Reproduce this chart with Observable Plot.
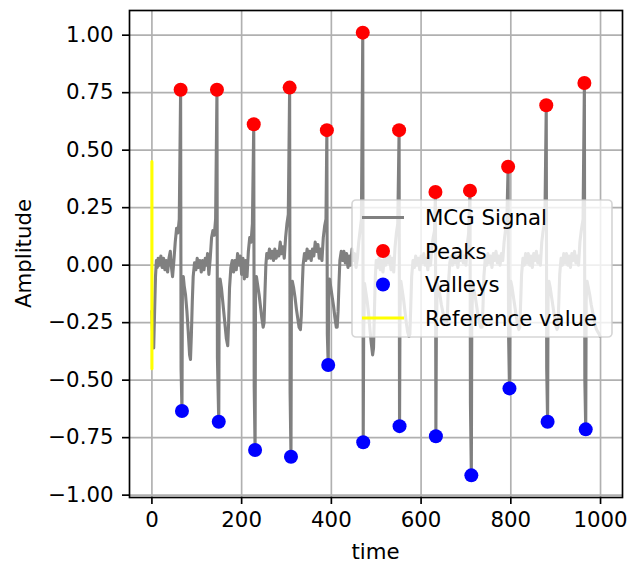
<!DOCTYPE html>
<html><head><meta charset="utf-8">
<script src="https://cdn.jsdelivr.net/npm/d3@7"></script>
<script src="https://cdn.jsdelivr.net/npm/@observablehq/plot@0.6"></script>
<style>body{margin:0;background:#fff;} svg{display:block}</style>
</head><body><div id="chart"></div>
<script>
// MCG signal, [time, amplitude]
const mcgSignal = [
 [0,-0.20],[2,-0.33],[4,-0.36],[6,-0.20],[8,-0.05],[10,0.02],[12,-0.01],[14,0.03],[17,0.0],[20,0.04],[23,-0.01],[26,0.03],[29,-0.02],[32,0.02],[35,-0.03],[38,0.03],[41,0.06],[43,0.0],[46,-0.05],[49,0.02],[52,0.10],[55,0.16],[58,0.14],[61,0.20],
 [64,0.763],[65,-0.45],[67,-0.634],[68,-0.10],[70,-0.05],[72,-0.09],[75,-0.13],[78,-0.20],[81,-0.29],[84,-0.39],[86,-0.41],[88,-0.30],[90,-0.16],[92,-0.05],[95,0.01],
 [98,-0.02],[101,0.03],[104,-0.01],[107,0.02],[110,-0.03],[113,0.02],[116,-0.02],[119,0.03],[122,0.0],[124,0.05],[127,-0.04],[130,0.03],[133,0.12],[136,0.15],[139,0.13],[142,0.20],
 [145,0.763],[146,-0.40],[149,-0.681],[150,-0.10],[152,-0.06],[155,-0.10],[158,-0.16],[162,-0.24],[166,-0.32],[169,-0.35],[171,-0.25],[173,-0.10],[176,-0.01],
 [179,0.02],[182,-0.03],[185,0.02],[188,-0.02],[191,0.05],[194,0.0],[197,0.04],[200,-0.04],[203,0.03],[206,-0.06],[209,0.02],[212,-0.05],[215,0.06],[218,0.12],[221,0.10],[224,0.18],
 [227,0.613],[228,-0.53],[230,-0.804],[231,-0.10],[233,-0.05],[236,-0.09],[239,-0.13],[242,-0.18],[245,-0.23],[248,-0.27],[250,-0.25],[252,-0.12],[254,0.0],[256,0.05],
 [259,0.03],[262,0.07],[265,0.03],[268,0.06],[271,0.02],[274,0.07],[277,0.03],[280,0.06],[283,0.04],[286,0.10],[289,0.05],[292,0.08],[295,0.03],[298,0.12],[301,0.18],[304,0.22],
 [307,0.772],[308,-0.55],[310,-0.833],[311,-0.12],[313,-0.07],[316,-0.10],[319,-0.14],[322,-0.19],[325,-0.23],[328,-0.27],[331,-0.28],[333,-0.22],[335,-0.10],[337,0.0],[340,0.05],
 [343,0.02],[346,0.07],[349,0.03],[352,0.06],[355,0.02],[358,0.07],[361,0.04],[364,0.10],[367,0.06],[370,0.09],[373,0.03],[376,0.07],[379,0.02],[382,0.12],[385,0.17],[388,0.20],
 [390,0.587],[391,-0.30],[393,-0.434],[394,-0.10],[396,-0.06],[399,-0.10],[402,-0.14],[405,-0.18],[408,-0.23],[411,-0.27],[413,-0.27],[415,-0.20],[417,-0.08],[419,0.02],[422,0.06],
 [425,0.02],[428,0.06],[431,0.01],[434,0.05],[437,-0.01],[440,0.04],[443,0.0],[446,0.07],[449,0.02],[452,0.05],[455,-0.01],[458,0.03],[461,0.10],[464,0.15],[467,0.20],
 [470,1.011],[471,-0.770],[472,-0.30],[474,-0.08],[477,-0.12],[480,-0.16],[483,-0.21],[486,-0.28],[489,-0.34],[492,-0.39],[494,-0.36],[496,-0.20],[498,-0.05],[500,0.02],
 [503,-0.01],[506,0.03],[509,-0.02],[512,0.02],[515,-0.03],[518,0.03],[521,0.0],[524,0.05],[527,0.01],[530,0.04],[533,-0.02],[536,0.03],[539,-0.03],[542,0.08],[545,0.14],[548,0.18],
 [551,0.587],[552,-0.700],[553,-0.20],[555,-0.07],[558,-0.11],[561,-0.15],[564,-0.20],[567,-0.25],[570,-0.29],[573,-0.31],[575,-0.30],[577,-0.18],[579,-0.05],[582,0.02],
 [585,-0.01],[588,0.04],[591,0.0],[594,0.03],[597,-0.02],[600,0.04],[603,0.01],[606,0.05],[609,0.0],[612,0.03],[615,-0.02],[618,0.04],[621,0.0],[624,0.08],[627,0.12],[630,0.15],
 [632,0.318],[633,-0.744],[634,-0.30],[636,-0.08],[639,-0.10],[642,-0.13],[645,-0.17],[648,-0.20],[651,-0.23],[654,-0.25],[657,-0.26],[659,-0.20],[661,-0.08],[664,0.01],
 [667,0.04],[670,0.0],[673,0.05],[676,0.01],[679,0.04],[682,-0.01],[685,0.05],[688,0.02],[691,0.06],[694,0.01],[697,0.04],[700,0.0],[703,0.09],[706,0.14],
 [709,0.324],[710,-0.60],[712,-0.914],[713,-0.25],[715,-0.08],[718,-0.11],[721,-0.14],[724,-0.18],[727,-0.22],[730,-0.25],[733,-0.27],[736,-0.27],[738,-0.18],[740,-0.05],[743,0.03],
 [746,0.0],[749,0.05],[752,0.01],[755,0.04],[758,-0.01],[761,0.05],[764,0.02],[767,0.06],[770,0.01],[773,0.04],[776,0.0],[779,0.05],[782,0.02],[785,0.10],[788,0.15],[791,0.18],
 [794,0.428],[795,-0.30],[797,-0.536],[798,-0.15],[800,-0.07],[803,-0.10],[806,-0.14],[809,-0.18],[812,-0.22],[815,-0.26],[818,-0.28],[820,-0.27],[822,-0.16],[824,-0.04],[827,0.03],
 [830,0.0],[833,0.05],[836,0.01],[839,0.05],[842,0.0],[845,0.04],[848,-0.01],[851,0.05],[854,0.02],[857,0.06],[860,0.01],[863,0.04],[866,0.0],[869,0.10],[872,0.15],[876,0.20],
 [879,0.695],[880,-0.45],[882,-0.681],[883,-0.15],[885,-0.07],[888,-0.10],[891,-0.14],[894,-0.18],[897,-0.22],[900,-0.26],[903,-0.28],[905,-0.27],[907,-0.16],[909,-0.04],[912,0.03],
 [915,0.0],[918,0.05],[921,0.01],[924,0.05],[927,0.0],[930,0.04],[933,-0.01],[936,0.05],[939,0.02],[942,0.06],[945,0.01],[948,0.04],[951,0.0],[954,0.10],[957,0.15],[961,0.20],
 [964,0.792],[965,-0.50],[967,-0.714],[968,-0.15],[970,-0.07],[973,-0.10],[976,-0.13],[979,-0.17],[982,-0.20],[985,-0.23],[988,-0.26],[991,-0.28],[994,-0.29],[997,-0.30],[999,-0.31]
];
const peakTime   = [64,145,227,307,390,470,551,632,709,794,879,964];
const peakAmp    = [0.763,0.763,0.613,0.772,0.587,1.011,0.587,0.318,0.324,0.428,0.695,0.792];
const valleyTime = [67,149,230,310,393,471,552,633,712,797,882,967];
const valleyAmp  = [-0.634,-0.681,-0.804,-0.833,-0.434,-0.770,-0.700,-0.744,-0.914,-0.536,-0.681,-0.714];
const refTime = [0,0];
const refAmp  = [-0.45,0.45];
const xTicks = [0,200,400,600,800,1000];
const yTicks = [-1,-0.75,-0.5,-0.25,0,0.25,0.5,0.75,1];
const legendLabels = ["MCG Signal","Peaks","Valleys","Reference value"];
const xLabel = "time", yLabel = "Amplitude";

const FONT = "DejaVu Sans";
const FS = 21.3;
const signal = mcgSignal.map(([t,v]) => ({t, v}));
const peaks = peakTime.map((t,i) => ({t, v: peakAmp[i]}));
const valleys = valleyTime.map((t,i) => ({t, v: valleyAmp[i]}));
const ref = refTime.map((t,i) => ({t, v: refAmp[i]}));

const W = 636, H = 564, mL = 129, mR = 14, mT = 10, mB = 67;
const chart = Plot.plot({
  width: W, height: H,
  marginLeft: mL, marginRight: mR, marginTop: mT, marginBottom: mB,
  style: {fontFamily: FONT, fontSize: FS + "px", color: "#000", background: "#fff", overflow: "visible"},
  x: {domain: [-49.95, 1048.95]},
  y: {domain: [-1.0103, 1.1073]},
  marks: [
    Plot.gridX(xTicks, {stroke: "#b0b0b0", strokeOpacity: 1, strokeWidth: 1.67}),
    Plot.gridY(yTicks, {stroke: "#b0b0b0", strokeOpacity: 1, strokeWidth: 1.67}),
    Plot.line(signal, {x: "t", y: "v", stroke: "#808080", strokeWidth: 3.1, strokeLinejoin: "round"}),
    Plot.dot(peaks, {x: "t", y: "v", r: 7, fill: "#ff0000", stroke: "none"}),
    Plot.dot(valleys, {x: "t", y: "v", r: 7, fill: "#0000ff", stroke: "none"}),
    Plot.line(ref, {x: "t", y: "v", stroke: "#ffff00", strokeWidth: 3.1}),
    Plot.frame({stroke: "#000", strokeWidth: 1.67}),
    Plot.axisX(xTicks, {tickSize: 7, tickPadding: 7, fontSize: FS, strokeWidth: 1.67, tickFormat: d => String(d), label: null}),
    Plot.axisY(yTicks, {tickSize: 7, tickPadding: 9, fontSize: FS, strokeWidth: 1.67, tickFormat: d3.format(".2f"), label: null})
  ]
});
document.getElementById("chart").appendChild(chart);

const svg = d3.select(chart);
const plotCX = mL + (W - mL - mR) / 2;
const plotCY = mT + (H - mT - mB) / 2;
svg.append("text").text(xLabel)
  .attr("x", plotCX).attr("y", 559).attr("text-anchor", "middle")
  .attr("font-family", FONT).attr("font-size", FS).attr("fill", "#000");
svg.append("text").text(yLabel)
  .attr("transform", `translate(31,${plotCY}) rotate(-90)`).attr("text-anchor", "middle")
  .attr("font-family", FONT).attr("font-size", FS).attr("fill", "#000");

// legend
const lg = svg.append("g").attr("text-anchor", "start");
const lx = 352, ly = 200, lw = 260, lh = 137;
lg.append("rect").attr("x", lx).attr("y", ly).attr("width", lw).attr("height", lh)
  .attr("rx", 4).attr("fill", "#fff").attr("fill-opacity", 0.8)
  .attr("stroke", "#cccccc").attr("stroke-opacity", 0.8).attr("stroke-width", 1.67);
const rowY = [217.5, 251, 284.5, 318];
const colors = ["#808080", "#ff0000", "#0000ff", "#ffff00"];
legendLabels.forEach((lab, i) => {
  const y = rowY[i];
  if (i === 1 || i === 2) {
    lg.append("circle").attr("cx", 383).attr("cy", y).attr("r", 7).attr("fill", colors[i]);
  } else {
    lg.append("line").attr("x1", 362).attr("x2", 404).attr("y1", y).attr("y2", y)
      .attr("stroke", colors[i]).attr("stroke-width", 3.1);
  }
  lg.append("text").text(lab).attr("x", 425).attr("y", y).attr("dy", "0.36em")
    .attr("text-anchor", "start")
    .attr("font-family", FONT).attr("font-size", FS).attr("fill", "#000");
});
</script></body></html>
